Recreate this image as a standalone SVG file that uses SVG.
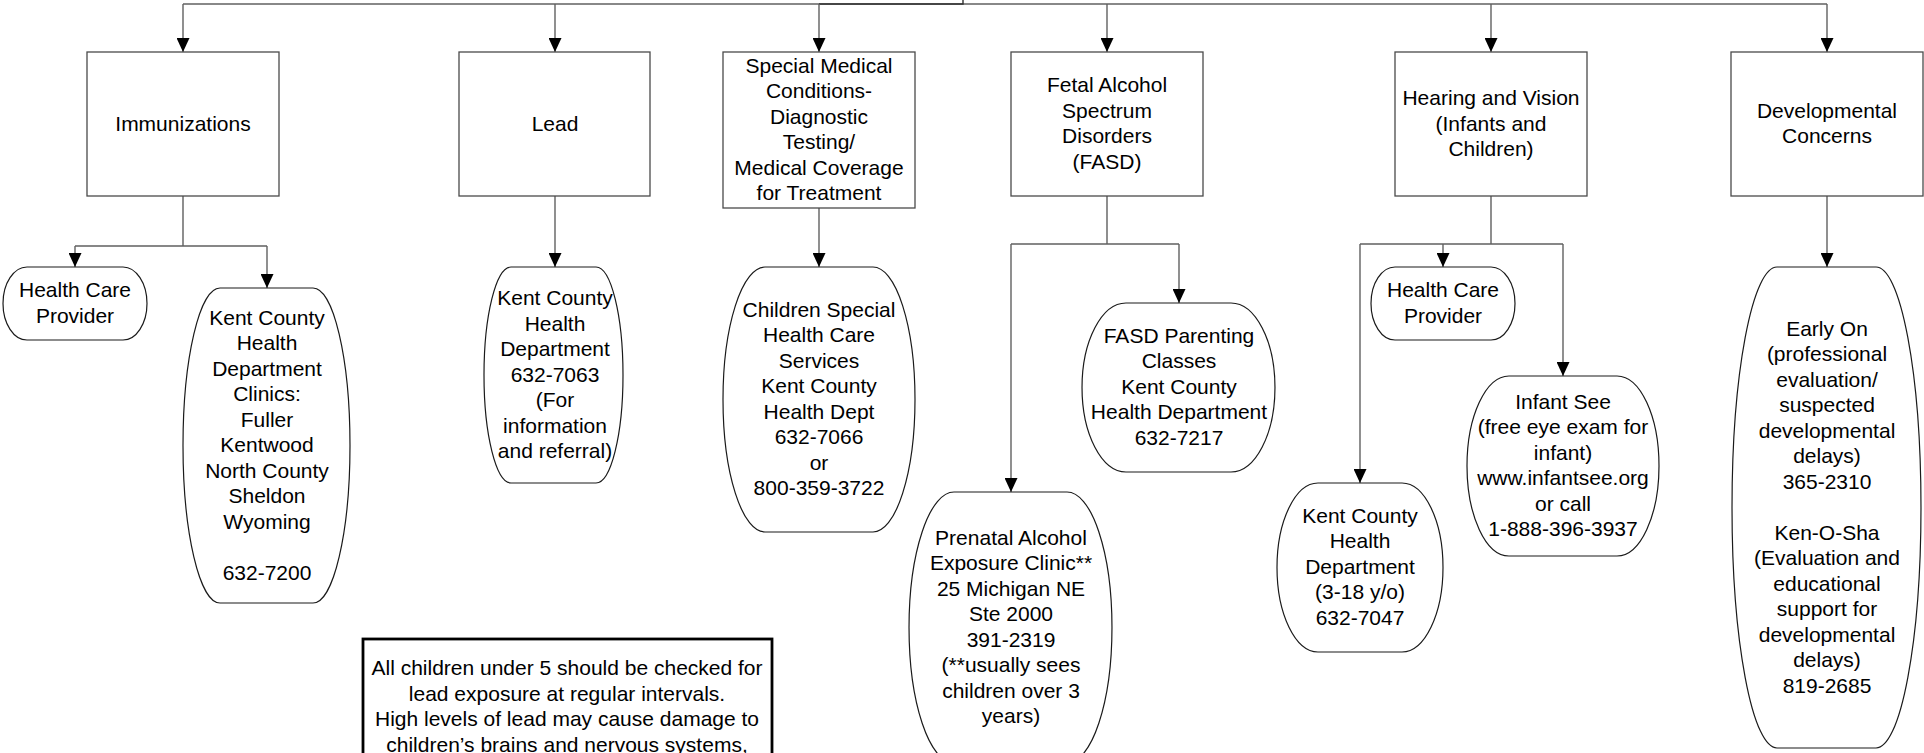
<svg xmlns="http://www.w3.org/2000/svg" width="1924" height="753" viewBox="0 0 1924 753">
<style>
.box{fill:#fff;stroke:#4a4a4a;stroke-width:1.3}
.oval{fill:#fff;stroke:#1a1a1a;stroke-width:1.2}
.note{fill:#fff;stroke:#000;stroke-width:2.8}
.c{fill:none;stroke:#606060;stroke-width:1.4}
.ca{fill:none;stroke:#606060;stroke-width:1.4;marker-end:url(#arr)}
text{font-family:"Liberation Sans",Arial,sans-serif;font-size:21px;fill:#000;text-anchor:middle}
</style>
<defs>
<marker id="arr" viewBox="0 0 14 13" refX="14" refY="6.5" markerWidth="14" markerHeight="13" markerUnits="userSpaceOnUse" orient="auto">
<path d="M0,0 L14,6.5 L0,13 Z" fill="#000"/>
</marker>
</defs>
<g id="connectors">
<path class="c" d="M183,4 H1827"/>
<path class="c" d="M819,4 H963 V0" style="stroke:#303030"/>
<path class="ca" d="M183,4 V52"/>
<path class="ca" d="M555,4 V52"/>
<path class="ca" d="M819,4 V52"/>
<path class="ca" d="M1107,4 V52"/>
<path class="ca" d="M1491,4 V52"/>
<path class="ca" d="M1827,4 V52"/>
<path class="c" d="M183,196 V246 M75,246 H267"/>
<path class="ca" d="M75,246 V267"/>
<path class="ca" d="M267,246 V288"/>
<path class="ca" d="M555,196 V267"/>
<path class="ca" d="M819,208 V267"/>
<path class="c" d="M1107,196 V244 M1011,244 H1179"/>
<path class="ca" d="M1011,244 V492"/>
<path class="ca" d="M1179,244 V303"/>
<path class="c" d="M1491,196 V244 M1360,244 H1563"/>
<path class="ca" d="M1360,244 V483"/>
<path class="ca" d="M1443,244 V267"/>
<path class="ca" d="M1563,244 V376"/>
<path class="ca" d="M1827,196 V267"/>
</g>
<g id="immunizations">
<rect class="box" x="87" y="52" width="192" height="144"/>
<text x="183" y="130.5">Immunizations</text>
</g>
<g id="lead">
<rect class="box" x="459" y="52" width="191" height="144"/>
<text x="555" y="130.5">Lead</text>
</g>
<g id="special-medical">
<rect class="box" x="723" y="52" width="192" height="156"/>
<text x="819" y="72.5"><tspan x="819">Special Medical</tspan><tspan x="819" dy="25.5">Conditions-</tspan><tspan x="819" dy="25.5">Diagnostic</tspan><tspan x="819" dy="25.5">Testing/</tspan><tspan x="819" dy="25.5">Medical Coverage</tspan><tspan x="819" dy="25.5">for Treatment</tspan></text>
</g>
<g id="fasd">
<rect class="box" x="1011" y="52" width="192" height="144"/>
<text x="1107" y="92.25"><tspan x="1107">Fetal Alcohol</tspan><tspan x="1107" dy="25.5">Spectrum</tspan><tspan x="1107" dy="25.5">Disorders</tspan><tspan x="1107" dy="25.5">(FASD)</tspan></text>
</g>
<g id="hearing-vision">
<rect class="box" x="1395" y="52" width="192" height="144"/>
<text x="1491" y="105"><tspan x="1491">Hearing and Vision</tspan><tspan x="1491" dy="25.5">(Infants and</tspan><tspan x="1491" dy="25.5">Children)</tspan></text>
</g>
<g id="developmental">
<rect class="box" x="1731" y="52" width="192" height="144"/>
<text x="1827" y="117.75"><tspan x="1827">Developmental</tspan><tspan x="1827" dy="25.5">Concerns</tspan></text>
</g>
<g id="hcp-immunizations">
<path class="oval" d="M27,267 H123 A24 36.5 0 0 1 123,340 H27 A24 36.5 0 0 1 27,267 Z"/>
<text x="75" y="297.25"><tspan x="75">Health Care</tspan><tspan x="75" dy="25.5">Provider</tspan></text>
</g>
<g id="kent-clinics">
<path class="oval" d="M220,288 H313 A37 157.5 0 0 1 313,603 H220 A37 157.5 0 0 1 220,288 Z"/>
<text x="267" y="324.5"><tspan x="267">Kent County</tspan><tspan x="267" dy="25.5">Health</tspan><tspan x="267" dy="25.5">Department</tspan><tspan x="267" dy="25.5">Clinics:</tspan><tspan x="267" dy="25.5">Fuller</tspan><tspan x="267" dy="25.5">Kentwood</tspan><tspan x="267" dy="25.5">North County</tspan><tspan x="267" dy="25.5">Sheldon</tspan><tspan x="267" dy="25.5">Wyoming</tspan><tspan x="267" dy="51">632-7200</tspan></text>
</g>
<g id="kent-lead">
<path class="oval" d="M511,267 H596 A27 108 0 0 1 596,483 H511 A27 108 0 0 1 511,267 Z"/>
<text x="555" y="305"><tspan x="555">Kent County</tspan><tspan x="555" dy="25.5">Health</tspan><tspan x="555" dy="25.5">Department</tspan><tspan x="555" dy="25.5">632-7063</tspan><tspan x="555" dy="25.5">(For</tspan><tspan x="555" dy="25.5">information</tspan><tspan x="555" dy="25.5">and referral)</tspan></text>
</g>
<g id="children-special">
<path class="oval" d="M765,267 H873 A42 132.5 0 0 1 873,532 H765 A42 132.5 0 0 1 765,267 Z"/>
<text x="819" y="316.75"><tspan x="819">Children Special</tspan><tspan x="819" dy="25.5">Health Care</tspan><tspan x="819" dy="25.5">Services</tspan><tspan x="819" dy="25.5">Kent County</tspan><tspan x="819" dy="25.5">Health Dept</tspan><tspan x="819" dy="25.5">632-7066</tspan><tspan x="819" dy="25.5">or</tspan><tspan x="819" dy="25.5">800-359-3722</tspan></text>
</g>
<g id="fasd-parenting">
<path class="oval" d="M1126,303 H1231 A44 84.5 0 0 1 1231,472 H1126 A44 84.5 0 0 1 1126,303 Z"/>
<text x="1179" y="342.5"><tspan x="1179">FASD Parenting</tspan><tspan x="1179" dy="25.5">Classes</tspan><tspan x="1179" dy="25.5">Kent County</tspan><tspan x="1179" dy="25.5">Health Department</tspan><tspan x="1179" dy="25.5">632-7217</tspan></text>
</g>
<g id="prenatal">
<path class="oval" d="M954,492 H1067 A45 135.5 0 0 1 1067,763 H954 A45 135.5 0 0 1 954,492 Z"/>
<text x="1011" y="544.8"><tspan x="1011">Prenatal Alcohol</tspan><tspan x="1011" dy="25.5">Exposure Clinic**</tspan><tspan x="1011" dy="25.5">25 Michigan NE</tspan><tspan x="1011" dy="25.5">Ste 2000</tspan><tspan x="1011" dy="25.5">391-2319</tspan><tspan x="1011" dy="25.5">(**usually sees</tspan><tspan x="1011" dy="25.5">children over 3</tspan><tspan x="1011" dy="25.5">years)</tspan></text>
</g>
<g id="hcp-hearing">
<path class="oval" d="M1395,267 H1491 A24 36.5 0 0 1 1491,340 H1395 A24 36.5 0 0 1 1395,267 Z"/>
<text x="1443" y="297.25"><tspan x="1443">Health Care</tspan><tspan x="1443" dy="25.5">Provider</tspan></text>
</g>
<g id="kent-hearing">
<path class="oval" d="M1318,483 H1402 A41 84.5 0 0 1 1402,652 H1318 A41 84.5 0 0 1 1318,483 Z"/>
<text x="1360" y="522.5"><tspan x="1360">Kent County</tspan><tspan x="1360" dy="25.5">Health</tspan><tspan x="1360" dy="25.5">Department</tspan><tspan x="1360" dy="25.5">(3-18 y/o)</tspan><tspan x="1360" dy="25.5">632-7047</tspan></text>
</g>
<g id="infant-see">
<path class="oval" d="M1509,376 H1617 A42 90 0 0 1 1617,556 H1509 A42 90 0 0 1 1509,376 Z"/>
<text x="1563" y="408.75"><tspan x="1563">Infant See</tspan><tspan x="1563" dy="25.5">(free eye exam for</tspan><tspan x="1563" dy="25.5">infant)</tspan><tspan x="1563" dy="25.5">www.infantsee.org</tspan><tspan x="1563" dy="25.5">or call</tspan><tspan x="1563" dy="25.5">1-888-396-3937</tspan></text>
</g>
<g id="early-on">
<path class="oval" d="M1777,267 H1876 A45 240.5 0 0 1 1876,748 H1777 A45 240.5 0 0 1 1777,267 Z"/>
<text x="1827" y="335.5"><tspan x="1827">Early On</tspan><tspan x="1827" dy="25.5">(professional</tspan><tspan x="1827" dy="25.5">evaluation/</tspan><tspan x="1827" dy="25.5">suspected</tspan><tspan x="1827" dy="25.5">developmental</tspan><tspan x="1827" dy="25.5">delays)</tspan><tspan x="1827" dy="25.5">365-2310</tspan><tspan x="1827" dy="51">Ken-O-Sha</tspan><tspan x="1827" dy="25.5">(Evaluation and</tspan><tspan x="1827" dy="25.5">educational</tspan><tspan x="1827" dy="25.5">support for</tspan><tspan x="1827" dy="25.5">developmental</tspan><tspan x="1827" dy="25.5">delays)</tspan><tspan x="1827" dy="25.5">819-2685</tspan></text>
</g>
<g id="lead-note">
<rect class="note" x="363" y="639" width="409" height="140"/>
<text x="567" y="675"><tspan x="567">All children under 5 should be checked for</tspan><tspan x="567" dy="25.5">lead exposure at regular intervals.</tspan><tspan x="567" dy="25.5">High levels of lead may cause damage to</tspan><tspan x="567" dy="25.5">children’s brains and nervous systems,</tspan></text>
</g>
</svg>
